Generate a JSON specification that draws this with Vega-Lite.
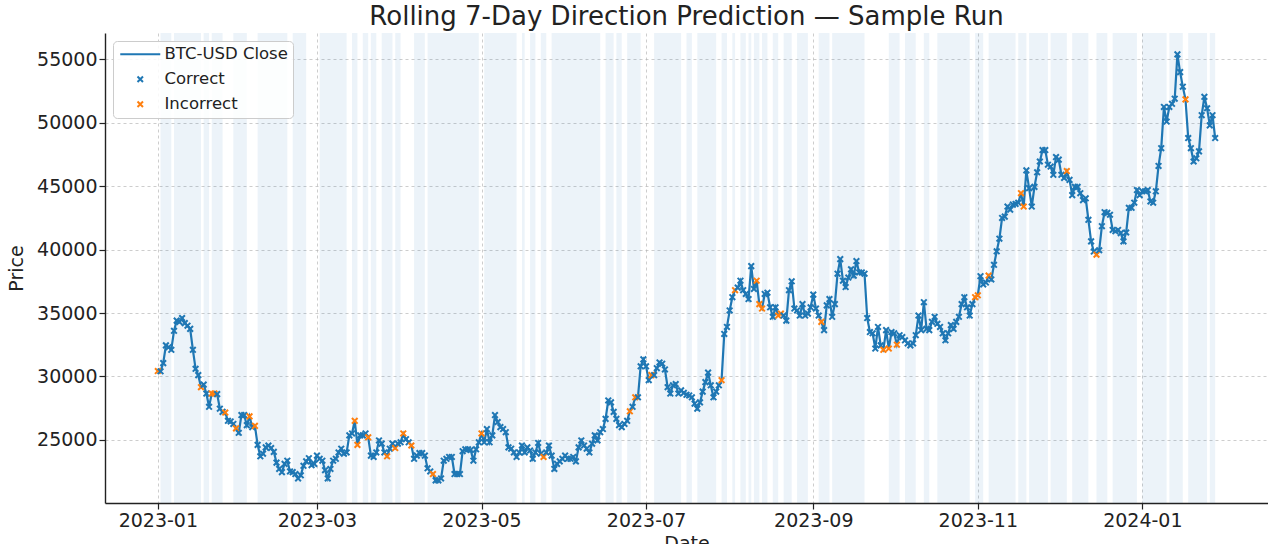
{
"$schema": "https://vega.github.io/schema/vega-lite/v6.json",
"width": 1163,
"height": 470,
"padding": {"left": 7, "top": 4, "right": 0, "bottom": 0},
"title": {"text": "Rolling 7-Day Direction Prediction — Sample Run", "fontSize": 26, "font": "DejaVu Sans", "fontWeight": "normal", "color": "#222222", "offset": 3, "anchor": "middle"},
"datasets": {
"bands": [
{"start":"2023-01-02","end":"2023-01-06"},{"start":"2023-01-07","end":"2023-01-17"},{"start":"2023-01-18","end":"2023-01-20"},{"start":"2023-01-21","end":"2023-01-25"},{"start":"2023-01-29","end":"2023-02-03"},{"start":"2023-02-07","end":"2023-02-18"},{"start":"2023-02-20","end":"2023-02-25"},{"start":"2023-03-02","end":"2023-03-12"},{"start":"2023-03-14","end":"2023-03-16"},{"start":"2023-03-18","end":"2023-03-20"},{"start":"2023-03-21","end":"2023-03-23"},{"start":"2023-03-25","end":"2023-03-29"},{"start":"2023-03-30","end":"2023-04-01"},{"start":"2023-04-06","end":"2023-04-10"},{"start":"2023-04-11","end":"2023-04-30"},{"start":"2023-05-02","end":"2023-05-14"},{"start":"2023-05-16","end":"2023-05-17"},{"start":"2023-05-19","end":"2023-05-21"},{"start":"2023-05-23","end":"2023-05-25"},{"start":"2023-05-27","end":"2023-06-14"},{"start":"2023-06-16","end":"2023-06-19"},{"start":"2023-06-20","end":"2023-06-22"},{"start":"2023-06-24","end":"2023-06-29"},{"start":"2023-07-04","end":"2023-07-14"},{"start":"2023-07-16","end":"2023-07-18"},{"start":"2023-07-20","end":"2023-07-27"},{"start":"2023-07-29","end":"2023-07-31"},{"start":"2023-08-02","end":"2023-08-03"},{"start":"2023-08-05","end":"2023-08-07"},{"start":"2023-08-08","end":"2023-08-09"},{"start":"2023-08-10","end":"2023-08-12"},{"start":"2023-08-13","end":"2023-08-15"},{"start":"2023-08-17","end":"2023-08-19"},{"start":"2023-08-21","end":"2023-08-24"},{"start":"2023-08-26","end":"2023-08-30"},{"start":"2023-09-03","end":"2023-09-07"},{"start":"2023-09-08","end":"2023-09-20"},{"start":"2023-09-29","end":"2023-10-03"},{"start":"2023-10-05","end":"2023-10-09"},{"start":"2023-10-12","end":"2023-10-14"},{"start":"2023-10-17","end":"2023-10-29"},{"start":"2023-10-31","end":"2023-11-03"},{"start":"2023-11-05","end":"2023-11-15"},{"start":"2023-11-16","end":"2023-11-19"},{"start":"2023-11-20","end":"2023-11-27"},{"start":"2023-11-28","end":"2023-12-04"},{"start":"2023-12-06","end":"2023-12-12"},{"start":"2023-12-15","end":"2023-12-19"},{"start":"2023-12-21","end":"2023-12-30"},{"start":"2024-01-01","end":"2024-01-10"},{"start":"2024-01-11","end":"2024-01-16"},{"start":"2024-01-18","end":"2024-01-25"},{"start":"2024-01-26","end":"2024-01-28"}
],
"prices": [
{"date":"2023-01-01","price":30420,"result":"Incorrect"},
{"date":"2023-01-02","price":30400,"result":"Correct"},
{"date":"2023-01-03","price":31050,"result":"Correct"},
{"date":"2023-01-04","price":32450,"result":"Correct"},
{"date":"2023-01-05","price":32300,"result":"Correct"},
{"date":"2023-01-06","price":32100,"result":"Correct"},
{"date":"2023-01-07","price":33600,"result":"Correct"},
{"date":"2023-01-08","price":34400,"result":"Correct"},
{"date":"2023-01-09","price":34300,"result":"Correct"},
{"date":"2023-01-10","price":34600,"result":"Correct"},
{"date":"2023-01-11","price":34200,"result":"Correct"},
{"date":"2023-01-12","price":34000,"result":"Correct"},
{"date":"2023-01-13","price":33750,"result":"Correct"},
{"date":"2023-01-14","price":32100,"result":"Correct"},
{"date":"2023-01-15","price":30600,"result":"Correct"},
{"date":"2023-01-16","price":30100,"result":"Correct"},
{"date":"2023-01-17","price":29150,"result":"Incorrect"},
{"date":"2023-01-18","price":29350,"result":"Correct"},
{"date":"2023-01-19","price":28650,"result":"Correct"},
{"date":"2023-01-20","price":27600,"result":"Correct"},
{"date":"2023-01-21","price":28650,"result":"Incorrect"},
{"date":"2023-01-22","price":28650,"result":"Incorrect"},
{"date":"2023-01-23","price":28600,"result":"Correct"},
{"date":"2023-01-24","price":27450,"result":"Correct"},
{"date":"2023-01-25","price":27200,"result":"Correct"},
{"date":"2023-01-26","price":27150,"result":"Incorrect"},
{"date":"2023-01-27","price":26500,"result":"Correct"},
{"date":"2023-01-28","price":26450,"result":"Correct"},
{"date":"2023-01-29","price":26250,"result":"Correct"},
{"date":"2023-01-30","price":25900,"result":"Incorrect"},
{"date":"2023-01-31","price":25550,"result":"Correct"},
{"date":"2023-02-01","price":26950,"result":"Correct"},
{"date":"2023-02-02","price":26950,"result":"Correct"},
{"date":"2023-02-03","price":26150,"result":"Correct"},
{"date":"2023-02-04","price":26850,"result":"Incorrect"},
{"date":"2023-02-05","price":26000,"result":"Correct"},
{"date":"2023-02-06","price":26100,"result":"Incorrect"},
{"date":"2023-02-07","price":24600,"result":"Correct"},
{"date":"2023-02-08","price":23700,"result":"Correct"},
{"date":"2023-02-09","price":23900,"result":"Correct"},
{"date":"2023-02-10","price":24400,"result":"Correct"},
{"date":"2023-02-11","price":24550,"result":"Correct"},
{"date":"2023-02-12","price":24350,"result":"Correct"},
{"date":"2023-02-13","price":24050,"result":"Correct"},
{"date":"2023-02-14","price":23200,"result":"Correct"},
{"date":"2023-02-15","price":22700,"result":"Correct"},
{"date":"2023-02-16","price":22450,"result":"Correct"},
{"date":"2023-02-17","price":23100,"result":"Correct"},
{"date":"2023-02-18","price":23350,"result":"Correct"},
{"date":"2023-02-19","price":22500,"result":"Correct"},
{"date":"2023-02-20","price":22450,"result":"Correct"},
{"date":"2023-02-21","price":22300,"result":"Correct"},
{"date":"2023-02-22","price":21950,"result":"Correct"},
{"date":"2023-02-23","price":22200,"result":"Correct"},
{"date":"2023-02-24","price":22950,"result":"Correct"},
{"date":"2023-02-25","price":23300,"result":"Correct"},
{"date":"2023-02-26","price":23550,"result":"Correct"},
{"date":"2023-02-27","price":23000,"result":"Correct"},
{"date":"2023-02-28","price":23100,"result":"Correct"},
{"date":"2023-03-01","price":23750,"result":"Correct"},
{"date":"2023-03-02","price":23500,"result":"Correct"},
{"date":"2023-03-03","price":23350,"result":"Correct"},
{"date":"2023-03-04","price":22600,"result":"Correct"},
{"date":"2023-03-05","price":21950,"result":"Correct"},
{"date":"2023-03-06","price":22700,"result":"Correct"},
{"date":"2023-03-07","price":23350,"result":"Correct"},
{"date":"2023-03-08","price":23500,"result":"Correct"},
{"date":"2023-03-09","price":24000,"result":"Correct"},
{"date":"2023-03-10","price":24300,"result":"Correct"},
{"date":"2023-03-11","price":23900,"result":"Correct"},
{"date":"2023-03-12","price":24000,"result":"Correct"},
{"date":"2023-03-13","price":25350,"result":"Correct"},
{"date":"2023-03-14","price":25500,"result":"Correct"},
{"date":"2023-03-15","price":26500,"result":"Incorrect"},
{"date":"2023-03-16","price":24600,"result":"Incorrect"},
{"date":"2023-03-17","price":25350,"result":"Correct"},
{"date":"2023-03-18","price":25350,"result":"Correct"},
{"date":"2023-03-19","price":25500,"result":"Correct"},
{"date":"2023-03-20","price":25200,"result":"Incorrect"},
{"date":"2023-03-21","price":23750,"result":"Correct"},
{"date":"2023-03-22","price":23650,"result":"Correct"},
{"date":"2023-03-23","price":24000,"result":"Correct"},
{"date":"2023-03-24","price":24950,"result":"Correct"},
{"date":"2023-03-25","price":24700,"result":"Correct"},
{"date":"2023-03-26","price":24000,"result":"Correct"},
{"date":"2023-03-27","price":23700,"result":"Incorrect"},
{"date":"2023-03-28","price":24300,"result":"Correct"},
{"date":"2023-03-29","price":24700,"result":"Correct"},
{"date":"2023-03-30","price":24350,"result":"Incorrect"},
{"date":"2023-03-31","price":24700,"result":"Correct"},
{"date":"2023-04-01","price":24800,"result":"Correct"},
{"date":"2023-04-02","price":25500,"result":"Incorrect"},
{"date":"2023-04-03","price":25050,"result":"Correct"},
{"date":"2023-04-04","price":24800,"result":"Correct"},
{"date":"2023-04-05","price":24550,"result":"Incorrect"},
{"date":"2023-04-06","price":23500,"result":"Correct"},
{"date":"2023-04-07","price":23750,"result":"Correct"},
{"date":"2023-04-08","price":23950,"result":"Correct"},
{"date":"2023-04-09","price":23950,"result":"Correct"},
{"date":"2023-04-10","price":23750,"result":"Correct"},
{"date":"2023-04-11","price":22750,"result":"Correct"},
{"date":"2023-04-12","price":22500,"result":"Correct"},
{"date":"2023-04-13","price":22300,"result":"Incorrect"},
{"date":"2023-04-14","price":21800,"result":"Correct"},
{"date":"2023-04-15","price":21800,"result":"Correct"},
{"date":"2023-04-16","price":21950,"result":"Correct"},
{"date":"2023-04-17","price":23350,"result":"Correct"},
{"date":"2023-04-18","price":23500,"result":"Correct"},
{"date":"2023-04-19","price":23650,"result":"Correct"},
{"date":"2023-04-20","price":23650,"result":"Correct"},
{"date":"2023-04-21","price":22300,"result":"Correct"},
{"date":"2023-04-22","price":22300,"result":"Correct"},
{"date":"2023-04-23","price":22300,"result":"Correct"},
{"date":"2023-04-24","price":24100,"result":"Correct"},
{"date":"2023-04-25","price":24250,"result":"Correct"},
{"date":"2023-04-26","price":24250,"result":"Correct"},
{"date":"2023-04-27","price":24200,"result":"Correct"},
{"date":"2023-04-28","price":23350,"result":"Correct"},
{"date":"2023-04-29","price":24250,"result":"Correct"},
{"date":"2023-04-30","price":24800,"result":"Correct"},
{"date":"2023-05-01","price":25500,"result":"Incorrect"},
{"date":"2023-05-02","price":24800,"result":"Correct"},
{"date":"2023-05-03","price":25850,"result":"Correct"},
{"date":"2023-05-04","price":24800,"result":"Correct"},
{"date":"2023-05-05","price":25350,"result":"Correct"},
{"date":"2023-05-06","price":26950,"result":"Correct"},
{"date":"2023-05-07","price":26400,"result":"Correct"},
{"date":"2023-05-08","price":26000,"result":"Correct"},
{"date":"2023-05-09","price":25850,"result":"Correct"},
{"date":"2023-05-10","price":25600,"result":"Correct"},
{"date":"2023-05-11","price":24400,"result":"Correct"},
{"date":"2023-05-12","price":24300,"result":"Correct"},
{"date":"2023-05-13","price":24000,"result":"Correct"},
{"date":"2023-05-14","price":23650,"result":"Correct"},
{"date":"2023-05-15","price":24000,"result":"Correct"},
{"date":"2023-05-16","price":24550,"result":"Correct"},
{"date":"2023-05-17","price":24000,"result":"Correct"},
{"date":"2023-05-18","price":24400,"result":"Correct"},
{"date":"2023-05-19","price":24150,"result":"Correct"},
{"date":"2023-05-20","price":23500,"result":"Correct"},
{"date":"2023-05-21","price":24000,"result":"Correct"},
{"date":"2023-05-22","price":24750,"result":"Correct"},
{"date":"2023-05-23","price":23900,"result":"Correct"},
{"date":"2023-05-24","price":23650,"result":"Incorrect"},
{"date":"2023-05-25","price":24000,"result":"Correct"},
{"date":"2023-05-26","price":24550,"result":"Correct"},
{"date":"2023-05-27","price":23750,"result":"Correct"},
{"date":"2023-05-28","price":22700,"result":"Correct"},
{"date":"2023-05-29","price":23100,"result":"Correct"},
{"date":"2023-05-30","price":23300,"result":"Correct"},
{"date":"2023-05-31","price":23500,"result":"Correct"},
{"date":"2023-06-01","price":23750,"result":"Correct"},
{"date":"2023-06-02","price":23500,"result":"Correct"},
{"date":"2023-06-03","price":23500,"result":"Correct"},
{"date":"2023-06-04","price":23650,"result":"Correct"},
{"date":"2023-06-05","price":23300,"result":"Correct"},
{"date":"2023-06-06","price":24400,"result":"Correct"},
{"date":"2023-06-07","price":24950,"result":"Correct"},
{"date":"2023-06-08","price":24550,"result":"Correct"},
{"date":"2023-06-09","price":24300,"result":"Correct"},
{"date":"2023-06-10","price":24000,"result":"Correct"},
{"date":"2023-06-11","price":24700,"result":"Correct"},
{"date":"2023-06-12","price":25350,"result":"Correct"},
{"date":"2023-06-13","price":24950,"result":"Correct"},
{"date":"2023-06-14","price":25600,"result":"Correct"},
{"date":"2023-06-15","price":25850,"result":"Correct"},
{"date":"2023-06-16","price":26650,"result":"Correct"},
{"date":"2023-06-17","price":28100,"result":"Correct"},
{"date":"2023-06-18","price":27950,"result":"Correct"},
{"date":"2023-06-19","price":27200,"result":"Correct"},
{"date":"2023-06-20","price":26650,"result":"Correct"},
{"date":"2023-06-21","price":26150,"result":"Correct"},
{"date":"2023-06-22","price":26000,"result":"Correct"},
{"date":"2023-06-23","price":26250,"result":"Correct"},
{"date":"2023-06-24","price":26500,"result":"Correct"},
{"date":"2023-06-25","price":27250,"result":"Incorrect"},
{"date":"2023-06-26","price":27600,"result":"Correct"},
{"date":"2023-06-27","price":28350,"result":"Incorrect"},
{"date":"2023-06-28","price":28350,"result":"Correct"},
{"date":"2023-06-29","price":30800,"result":"Correct"},
{"date":"2023-06-30","price":31350,"result":"Correct"},
{"date":"2023-07-01","price":30800,"result":"Correct"},
{"date":"2023-07-02","price":29700,"result":"Correct"},
{"date":"2023-07-03","price":30100,"result":"Incorrect"},
{"date":"2023-07-04","price":30100,"result":"Correct"},
{"date":"2023-07-05","price":30650,"result":"Correct"},
{"date":"2023-07-06","price":31100,"result":"Correct"},
{"date":"2023-07-07","price":31000,"result":"Correct"},
{"date":"2023-07-08","price":30550,"result":"Correct"},
{"date":"2023-07-09","price":29150,"result":"Correct"},
{"date":"2023-07-10","price":28650,"result":"Correct"},
{"date":"2023-07-11","price":29300,"result":"Correct"},
{"date":"2023-07-12","price":29400,"result":"Correct"},
{"date":"2023-07-13","price":28650,"result":"Correct"},
{"date":"2023-07-14","price":28900,"result":"Correct"},
{"date":"2023-07-15","price":28700,"result":"Correct"},
{"date":"2023-07-16","price":28550,"result":"Correct"},
{"date":"2023-07-17","price":28500,"result":"Correct"},
{"date":"2023-07-18","price":28350,"result":"Correct"},
{"date":"2023-07-19","price":27850,"result":"Correct"},
{"date":"2023-07-20","price":27450,"result":"Correct"},
{"date":"2023-07-21","price":27950,"result":"Correct"},
{"date":"2023-07-22","price":28800,"result":"Correct"},
{"date":"2023-07-23","price":29550,"result":"Correct"},
{"date":"2023-07-24","price":30300,"result":"Correct"},
{"date":"2023-07-25","price":29300,"result":"Correct"},
{"date":"2023-07-26","price":28350,"result":"Correct"},
{"date":"2023-07-27","price":28800,"result":"Correct"},
{"date":"2023-07-28","price":29300,"result":"Correct"},
{"date":"2023-07-29","price":29700,"result":"Incorrect"},
{"date":"2023-07-30","price":33350,"result":"Correct"},
{"date":"2023-07-31","price":33900,"result":"Correct"},
{"date":"2023-08-01","price":35200,"result":"Correct"},
{"date":"2023-08-02","price":36250,"result":"Correct"},
{"date":"2023-08-03","price":36800,"result":"Incorrect"},
{"date":"2023-08-04","price":37000,"result":"Correct"},
{"date":"2023-08-05","price":37550,"result":"Correct"},
{"date":"2023-08-06","price":36800,"result":"Correct"},
{"date":"2023-08-07","price":36500,"result":"Correct"},
{"date":"2023-08-08","price":36100,"result":"Correct"},
{"date":"2023-08-09","price":38700,"result":"Correct"},
{"date":"2023-08-10","price":36900,"result":"Correct"},
{"date":"2023-08-11","price":37550,"result":"Incorrect"},
{"date":"2023-08-12","price":35700,"result":"Incorrect"},
{"date":"2023-08-13","price":35350,"result":"Incorrect"},
{"date":"2023-08-14","price":36500,"result":"Correct"},
{"date":"2023-08-15","price":36600,"result":"Correct"},
{"date":"2023-08-16","price":35450,"result":"Correct"},
{"date":"2023-08-17","price":34700,"result":"Correct"},
{"date":"2023-08-18","price":35450,"result":"Correct"},
{"date":"2023-08-19","price":34800,"result":"Incorrect"},
{"date":"2023-08-20","price":34950,"result":"Incorrect"},
{"date":"2023-08-21","price":34800,"result":"Correct"},
{"date":"2023-08-22","price":34400,"result":"Correct"},
{"date":"2023-08-23","price":36800,"result":"Correct"},
{"date":"2023-08-24","price":37500,"result":"Correct"},
{"date":"2023-08-25","price":35350,"result":"Correct"},
{"date":"2023-08-26","price":35200,"result":"Correct"},
{"date":"2023-08-27","price":34800,"result":"Correct"},
{"date":"2023-08-28","price":35700,"result":"Correct"},
{"date":"2023-08-29","price":34800,"result":"Correct"},
{"date":"2023-08-30","price":34950,"result":"Correct"},
{"date":"2023-08-31","price":35450,"result":"Correct"},
{"date":"2023-09-01","price":36450,"result":"Correct"},
{"date":"2023-09-02","price":35350,"result":"Correct"},
{"date":"2023-09-03","price":34800,"result":"Correct"},
{"date":"2023-09-04","price":34300,"result":"Incorrect"},
{"date":"2023-09-05","price":33650,"result":"Correct"},
{"date":"2023-09-06","price":35600,"result":"Correct"},
{"date":"2023-09-07","price":36100,"result":"Correct"},
{"date":"2023-09-08","price":34700,"result":"Correct"},
{"date":"2023-09-09","price":35700,"result":"Correct"},
{"date":"2023-09-10","price":38100,"result":"Correct"},
{"date":"2023-09-11","price":39250,"result":"Correct"},
{"date":"2023-09-12","price":37550,"result":"Correct"},
{"date":"2023-09-13","price":37050,"result":"Correct"},
{"date":"2023-09-14","price":37800,"result":"Correct"},
{"date":"2023-09-15","price":38450,"result":"Correct"},
{"date":"2023-09-16","price":37950,"result":"Correct"},
{"date":"2023-09-17","price":39100,"result":"Correct"},
{"date":"2023-09-18","price":38200,"result":"Correct"},
{"date":"2023-09-19","price":38200,"result":"Correct"},
{"date":"2023-09-20","price":38100,"result":"Correct"},
{"date":"2023-09-21","price":34600,"result":"Correct"},
{"date":"2023-09-22","price":33500,"result":"Correct"},
{"date":"2023-09-23","price":33400,"result":"Correct"},
{"date":"2023-09-24","price":32200,"result":"Correct"},
{"date":"2023-09-25","price":33900,"result":"Correct"},
{"date":"2023-09-26","price":32450,"result":"Correct"},
{"date":"2023-09-27","price":32100,"result":"Incorrect"},
{"date":"2023-09-28","price":33650,"result":"Correct"},
{"date":"2023-09-29","price":32200,"result":"Incorrect"},
{"date":"2023-09-30","price":33500,"result":"Correct"},
{"date":"2023-10-01","price":33400,"result":"Correct"},
{"date":"2023-10-02","price":32500,"result":"Incorrect"},
{"date":"2023-10-03","price":33250,"result":"Correct"},
{"date":"2023-10-04","price":33100,"result":"Correct"},
{"date":"2023-10-05","price":32850,"result":"Correct"},
{"date":"2023-10-06","price":32600,"result":"Correct"},
{"date":"2023-10-07","price":32450,"result":"Correct"},
{"date":"2023-10-08","price":32600,"result":"Correct"},
{"date":"2023-10-09","price":33250,"result":"Correct"},
{"date":"2023-10-10","price":34800,"result":"Correct"},
{"date":"2023-10-11","price":33650,"result":"Correct"},
{"date":"2023-10-12","price":35850,"result":"Correct"},
{"date":"2023-10-13","price":33750,"result":"Correct"},
{"date":"2023-10-14","price":33650,"result":"Correct"},
{"date":"2023-10-15","price":34300,"result":"Correct"},
{"date":"2023-10-16","price":34700,"result":"Correct"},
{"date":"2023-10-17","price":34150,"result":"Correct"},
{"date":"2023-10-18","price":33900,"result":"Correct"},
{"date":"2023-10-19","price":33400,"result":"Correct"},
{"date":"2023-10-20","price":32850,"result":"Correct"},
{"date":"2023-10-21","price":33400,"result":"Correct"},
{"date":"2023-10-22","price":34050,"result":"Correct"},
{"date":"2023-10-23","price":33750,"result":"Correct"},
{"date":"2023-10-24","price":34300,"result":"Correct"},
{"date":"2023-10-25","price":34700,"result":"Correct"},
{"date":"2023-10-26","price":35700,"result":"Correct"},
{"date":"2023-10-27","price":36250,"result":"Correct"},
{"date":"2023-10-28","price":35450,"result":"Correct"},
{"date":"2023-10-29","price":34800,"result":"Correct"},
{"date":"2023-10-30","price":35700,"result":"Correct"},
{"date":"2023-10-31","price":36250,"result":"Incorrect"},
{"date":"2023-11-01","price":36400,"result":"Incorrect"},
{"date":"2023-11-02","price":37900,"result":"Correct"},
{"date":"2023-11-03","price":37250,"result":"Correct"},
{"date":"2023-11-04","price":37400,"result":"Correct"},
{"date":"2023-11-05","price":37950,"result":"Incorrect"},
{"date":"2023-11-06","price":37650,"result":"Correct"},
{"date":"2023-11-07","price":38800,"result":"Correct"},
{"date":"2023-11-08","price":39870,"result":"Correct"},
{"date":"2023-11-09","price":40860,"result":"Correct"},
{"date":"2023-11-10","price":42500,"result":"Correct"},
{"date":"2023-11-11","price":42600,"result":"Correct"},
{"date":"2023-11-12","price":43400,"result":"Correct"},
{"date":"2023-11-13","price":43150,"result":"Correct"},
{"date":"2023-11-14","price":43550,"result":"Correct"},
{"date":"2023-11-15","price":43600,"result":"Correct"},
{"date":"2023-11-16","price":43700,"result":"Correct"},
{"date":"2023-11-17","price":44450,"result":"Incorrect"},
{"date":"2023-11-18","price":43400,"result":"Incorrect"},
{"date":"2023-11-19","price":46250,"result":"Correct"},
{"date":"2023-11-20","price":44850,"result":"Correct"},
{"date":"2023-11-21","price":43400,"result":"Correct"},
{"date":"2023-11-22","price":44950,"result":"Correct"},
{"date":"2023-11-23","price":46100,"result":"Correct"},
{"date":"2023-11-24","price":46950,"result":"Correct"},
{"date":"2023-11-25","price":47850,"result":"Correct"},
{"date":"2023-11-26","price":47850,"result":"Correct"},
{"date":"2023-11-27","price":46700,"result":"Correct"},
{"date":"2023-11-28","price":46550,"result":"Correct"},
{"date":"2023-11-29","price":45900,"result":"Correct"},
{"date":"2023-11-30","price":47300,"result":"Correct"},
{"date":"2023-12-01","price":47100,"result":"Correct"},
{"date":"2023-12-02","price":45900,"result":"Correct"},
{"date":"2023-12-03","price":45650,"result":"Correct"},
{"date":"2023-12-04","price":46200,"result":"Incorrect"},
{"date":"2023-12-05","price":45500,"result":"Correct"},
{"date":"2023-12-06","price":44300,"result":"Correct"},
{"date":"2023-12-07","price":44950,"result":"Correct"},
{"date":"2023-12-08","price":44950,"result":"Correct"},
{"date":"2023-12-09","price":44450,"result":"Correct"},
{"date":"2023-12-10","price":43900,"result":"Correct"},
{"date":"2023-12-11","price":44050,"result":"Correct"},
{"date":"2023-12-12","price":42350,"result":"Correct"},
{"date":"2023-12-13","price":40650,"result":"Correct"},
{"date":"2023-12-14","price":39850,"result":"Correct"},
{"date":"2023-12-15","price":39600,"result":"Incorrect"},
{"date":"2023-12-16","price":39950,"result":"Correct"},
{"date":"2023-12-17","price":41850,"result":"Correct"},
{"date":"2023-12-18","price":42950,"result":"Correct"},
{"date":"2023-12-19","price":42900,"result":"Correct"},
{"date":"2023-12-20","price":42750,"result":"Correct"},
{"date":"2023-12-21","price":41550,"result":"Correct"},
{"date":"2023-12-22","price":41450,"result":"Correct"},
{"date":"2023-12-23","price":41550,"result":"Correct"},
{"date":"2023-12-24","price":41300,"result":"Correct"},
{"date":"2023-12-25","price":40650,"result":"Correct"},
{"date":"2023-12-26","price":41350,"result":"Correct"},
{"date":"2023-12-27","price":43300,"result":"Correct"},
{"date":"2023-12-28","price":43300,"result":"Correct"},
{"date":"2023-12-29","price":43700,"result":"Correct"},
{"date":"2023-12-30","price":44700,"result":"Correct"},
{"date":"2023-12-31","price":44300,"result":"Correct"},
{"date":"2024-01-01","price":44600,"result":"Correct"},
{"date":"2024-01-02","price":44600,"result":"Correct"},
{"date":"2024-01-03","price":44700,"result":"Correct"},
{"date":"2024-01-04","price":43800,"result":"Correct"},
{"date":"2024-01-05","price":43700,"result":"Correct"},
{"date":"2024-01-06","price":44600,"result":"Correct"},
{"date":"2024-01-07","price":46600,"result":"Correct"},
{"date":"2024-01-08","price":48000,"result":"Correct"},
{"date":"2024-01-09","price":51250,"result":"Correct"},
{"date":"2024-01-10","price":50100,"result":"Correct"},
{"date":"2024-01-11","price":51250,"result":"Correct"},
{"date":"2024-01-12","price":51500,"result":"Correct"},
{"date":"2024-01-13","price":51900,"result":"Correct"},
{"date":"2024-01-14","price":55400,"result":"Correct"},
{"date":"2024-01-15","price":54000,"result":"Correct"},
{"date":"2024-01-16","price":52850,"result":"Correct"},
{"date":"2024-01-17","price":51850,"result":"Incorrect"},
{"date":"2024-01-18","price":48800,"result":"Correct"},
{"date":"2024-01-19","price":48000,"result":"Correct"},
{"date":"2024-01-20","price":46950,"result":"Correct"},
{"date":"2024-01-21","price":47200,"result":"Correct"},
{"date":"2024-01-22","price":47750,"result":"Correct"},
{"date":"2024-01-23","price":50600,"result":"Correct"},
{"date":"2024-01-24","price":52050,"result":"Correct"},
{"date":"2024-01-25","price":51150,"result":"Correct"},
{"date":"2024-01-26","price":49800,"result":"Correct"},
{"date":"2024-01-27","price":50600,"result":"Correct"},
{"date":"2024-01-28","price":48800,"result":"Correct"}
]
},
"layer": [
{
"data": {"name": "bands"},
"mark": {"type": "rect", "color": "#1f77b4", "opacity": 0.085},
"encoding": {
"x": {"field": "start", "type": "temporal", "scale": {"type": "utc", "domain": [{"year": 2022, "month": 12, "date": 12, "hours": 10, "utc": true}, {"year": 2024, "month": 2, "date": 16, "hours": 14, "utc": true}]}},
"x2": {"field": "end"}
}
},
{
"data": {"name": "prices"},
"mark": {"type": "line", "strokeWidth": 2.2},
"encoding": {
"x": {"field": "date", "type": "temporal", "title": "Date",
"axis": {"format": "%Y-%m", "values": [{"year": 2023, "month": 1, "date": 1, "utc": true}, {"year": 2023, "month": 3, "date": 1, "utc": true}, {"year": 2023, "month": 5, "date": 1, "utc": true}, {"year": 2023, "month": 7, "date": 1, "utc": true}, {"year": 2023, "month": 9, "date": 1, "utc": true}, {"year": 2023, "month": 11, "date": 1, "utc": true}, {"year": 2024, "month": 1, "date": 1, "utc": true}]}},
"y": {"field": "price", "type": "quantitative", "title": "Price", "scale": {"domain": [20015, 57085], "nice": false, "zero": false},
"axis": {"values": [25000, 30000, 35000, 40000, 45000, 50000, 55000], "format": "d"}},
"color": {"datum": "BTC-USD Close", "type": "nominal",
"scale": {"domain": ["BTC-USD Close", "Correct", "Incorrect"], "range": ["#1f77b4", "#1f77b4", "#ff7f0e"]},
"legend": {"title": null, "orient": "top-left", "offset": 8, "padding": 5, "rowPadding": 8,
"labelFont": "DejaVu Sans", "labelFontSize": 16.5, "labelColor": "#222222",
"strokeColor": "#cccccc", "fillColor": "rgba(255,255,255,0.85)", "cornerRadius": 4,
"symbolSize": 900, "symbolStrokeWidth": 2, "symbolOffset": 14, "labelOffset": 16,
"encode": {"symbols": {"update": {
"shape": {"signal": "datum.value === 'BTC-USD Close' ? 'stroke' : 'M-1,-1L1,1M-1,1L1,-1'"},
"size": {"signal": "datum.value === 'BTC-USD Close' ? 1600 : 30"},
"stroke": {"signal": "datum.value === 'Incorrect' ? '#ff7f0e' : '#1f77b4'"},
"fill": {"value": "transparent"},
"strokeWidth": {"value": 2},
"opacity": {"value": 1}
}}}}
}
}
},
{
"data": {"name": "prices"},
"mark": {"type": "point", "shape": "M-1,-1L1,1M-1,1L1,-1", "filled": false, "strokeWidth": 2, "size": 32, "opacity": 1},
"encoding": {
"x": {"field": "date", "type": "temporal"},
"y": {"field": "price", "type": "quantitative"},
"color": {"field": "result", "type": "nominal",
"legend": {"title": null, "orient": "top-left", "offset": 8, "padding": 5, "rowPadding": 8,
"labelFont": "DejaVu Sans", "labelFontSize": 16.5, "labelColor": "#222222",
"strokeColor": "#cccccc", "fillColor": "rgba(255,255,255,0.85)", "cornerRadius": 4,
"symbolSize": 900, "symbolStrokeWidth": 2, "symbolOffset": 14, "labelOffset": 16,
"encode": {"symbols": {"update": {
"shape": {"signal": "datum.value === 'BTC-USD Close' ? 'stroke' : 'M-1,-1L1,1M-1,1L1,-1'"},
"size": {"signal": "datum.value === 'BTC-USD Close' ? 1600 : 30"},
"stroke": {"signal": "datum.value === 'Incorrect' ? '#ff7f0e' : '#1f77b4'"},
"fill": {"value": "transparent"},
"strokeWidth": {"value": 2},
"opacity": {"value": 1}
}}}}
}
}
}
],
"config": {
"view": {"stroke": null},
"font": "DejaVu Sans",
"axis": {
"grid": true, "gridDash": [3, 3], "gridColor": "#b0b0b0", "gridWidth": 0.8, "gridOpacity": 0.8,
"domainColor": "#222222", "domainWidth": 1.4, "tickColor": "#222222", "tickSize": 6, "tickWidth": 1.2,
"labelFont": "DejaVu Sans", "labelFontSize": 19, "labelColor": "#222222", "labelPadding": 2,
"titleFont": "DejaVu Sans", "titleFontSize": 19, "titleFontWeight": "normal", "titleColor": "#222222"
},
"axisY": {"titlePadding": 10},
"axisX": {"titlePadding": 4, "labelFlush": false}
}
}
